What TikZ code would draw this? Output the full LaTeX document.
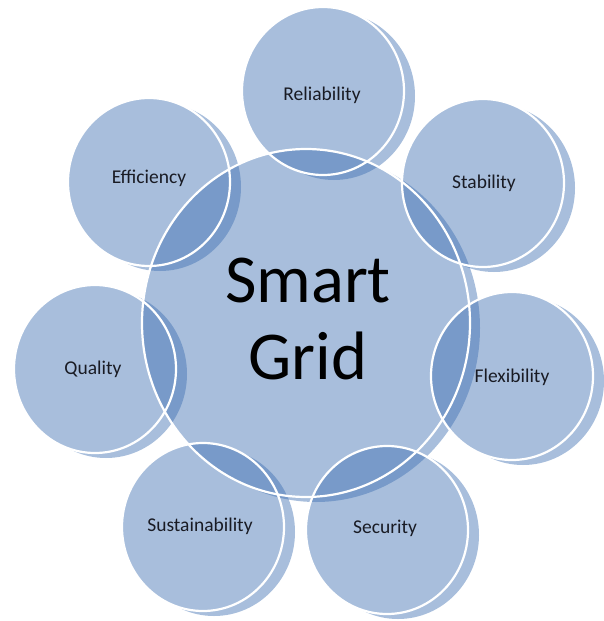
\documentclass[tikz,border=0pt]{standalone}
\usepackage{fontspec}
\setmainfont{Carlito}
\definecolor{bubble}{RGB}{62,111,177}
\definecolor{labeltext}{RGB}{25,27,36}
\tikzset{
  bubblefill/.style={fill=bubble, fill opacity=0.45},
  bubbleline/.style={draw=white, line width=2.2pt},
  smalllabel/.style={font=\fontsize{19.5}{22}\selectfont, text=labeltext},
  biglabel/.style={font=\fontsize{68.5}{77}\selectfont, text=black, align=center}
}
\begin{document}
\begin{tikzpicture}[x=1pt,y=-1pt]
\useasboundingbox (0,0) rectangle (604,621);
% centres
\coordinate (cC) at (306,323);
\coordinate (cRel) at (323,91);
\coordinate (cSta) at (483,183);
\coordinate (cFle) at (512,376);
\coordinate (cSec) at (387,530);
\coordinate (cSus) at (203,527);
\coordinate (cQua) at (95,369);
\coordinate (cEff) at (149,182);
% fills (bubble + its offset shadow as one union)
\fill[bubblefill] (cC) ellipse [x radius=164pt, y radius=174pt]
  ([shift={(10,5)}]cC) ellipse [x radius=164pt, y radius=174pt];
\foreach \c in {cRel,cSta,cFle,cSec,cSus,cQua,cEff}{
  \fill[bubblefill] (\c) ellipse [x radius=81pt, y radius=84pt]
    ([shift={(11,5)}]\c) ellipse [x radius=81pt, y radius=84pt];
}
% white outlines
\draw[bubbleline] (cC) ellipse [x radius=164pt, y radius=174pt];
\foreach \c in {cRel,cSta,cFle,cSec,cSus,cQua,cEff}{
  \draw[bubbleline] (\c) ellipse [x radius=81pt, y radius=84pt];
}
% labels
\node[biglabel] (center) at (308,319) {Smart\\Grid};
\node[smalllabel] (rel) at (322,95) {Reliability};
\node[smalllabel] (sta) at (484,183) {Stability};
\node[smalllabel] (fle) at (512,377) {Flexibility};
\node[smalllabel] (sec) at (385,528) {Security};
\node[smalllabel] (sus) at (200,526) {Sustainability};
\node[smalllabel] (qua) at (93,369) {Quality};
\node[smalllabel] (eff) at (149,178) {Efficiency};
\end{tikzpicture}
\end{document}
